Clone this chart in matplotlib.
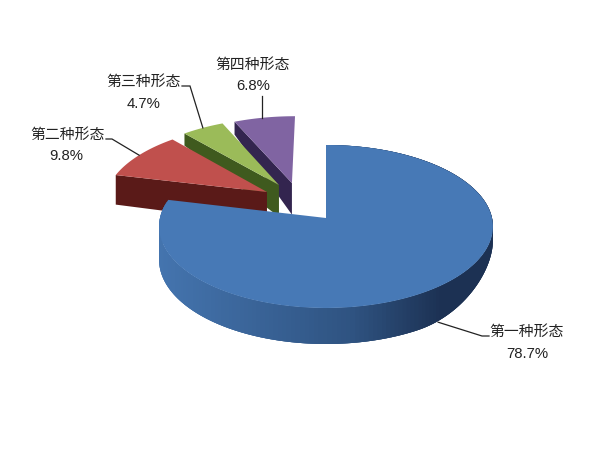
import numpy as np
import matplotlib
matplotlib.use('Agg')
import matplotlib.pyplot as plt

plt.rcParams['font.family'] = ['Liberation Sans', 'Noto Sans CJK SC']

labels = ['第一种形态', '第二种形态', '第三种形态', '第四种形态']
shares = [78.7, 9.8, 4.7, 6.8]

top_colors = ['#4779b6', '#c0504d', '#9bbb59', '#8064a2']
wall_colors = [None, '#5a1a18', '#3f5a1e', '#33254f']
# how far each slice is pulled out of the pie, in pie radii
explode_u = [0.0, -0.368, -0.296, -0.215]
explode_v = [0.0, 0.334, 0.427, 0.4545]

# label centres and leader line ends, in pixels
label_x = [527, 68, 144, 253]
label_y = [332, 135, 82, 65]
elbow = [(482, 336), (112, 139), (190, 86), (262, 96)]
line_end = [(489, 336), (106, 139), (182, 86), (262, 96)]

# perspective of the pie plane
x0, y0 = 326, 218
A, B, k = 166, 80.6, 0.1043


def project(u, v):
    w = 1 + k * v
    return x0 + A * u / w, y0 - B * v / w


def depth(v):
    return np.interp(v, [-1, 0.5, 1.15, 1.4], [36, 31.5, 12, 13])


fig = plt.figure(figsize=(5.99, 4.63), dpi=100)
ax = fig.add_axes([0, 0, 1, 1])
ax.set_xlim(0, 599)
ax.set_ylim(463, 0)
ax.axis('off')

edges = np.cumsum([0] + shares) * 2 * np.pi / 100

# back slices first, the big blue one last
c_left = np.array(matplotlib.colors.to_rgb('#4474ae'))
c_mid = np.array(matplotlib.colors.to_rgb('#2f5381'))
c_right = np.array(matplotlib.colors.to_rgb('#1c3153'))

for i in [3, 2, 1, 0]:
    a0, a1 = edges[i], edges[i + 1]
    th = np.linspace(a0, a1, 200)
    u = np.sin(th) + explode_u[i]
    v = np.cos(th) + explode_v[i]
    x, y = project(u, v)

    if i == 0:
        # outer wall, dark on the right going lighter to the left
        # wall gets thinner towards the right edge of the pie
        d = depth(v) * (1 - 0.6 * np.clip((u - 0.5) / 0.5, 0, 1) ** 2)
        for j in range(len(th) - 4):
            xm = x[j + 1]
            if xm < 350:
                col = c_left + (c_mid - c_left) * (xm - 160) / 190
            else:
                col = c_mid + (c_right - c_mid) * min((xm - 350) / 90, 1)
            # quads overlap so no seams show between them
            xq = x[j:j + 4]
            yq = y[j:j + 4]
            dq = d[j:j + 4]
            ax.fill(np.r_[xq, xq[::-1]], np.r_[yq, (yq + dq)[::-1]],
                    color=np.clip(col, 0, 1), lw=0, zorder=6)
    else:
        # radial wall from the slice apex out to its first corner
        ue = np.array([explode_u[i], np.sin(a0) + explode_u[i]])
        ve = np.array([explode_v[i], np.cos(a0) + explode_v[i]])
        xe, ye = project(ue, ve)
        de = depth(ve)
        ax.fill([xe[0], xe[1], xe[1], xe[0]],
                [ye[0], ye[1], ye[1] + de[1], ye[0] + de[0]],
                color=wall_colors[i], lw=0, zorder=5 - i)

    xa, ya = project(explode_u[i], explode_v[i])
    ax.fill(np.r_[xa, x], np.r_[ya, y], color=top_colors[i], lw=0,
            zorder=12 if i == 0 else 5 - i)

# labels and leader lines
for i in range(4):
    mid = (edges[i] + edges[i + 1]) / 2
    um = np.sin(mid) + explode_u[i]
    vm = np.cos(mid) + explode_v[i]
    xa, ya = project(um, vm)
    if i == 0:
        ya += depth(vm)
    if i == 3:
        xa = elbow[i][0]
    ax.plot([xa, elbow[i][0], line_end[i][0]], [ya, elbow[i][1], line_end[i][1]],
            color='#222222', lw=0.9, zorder=20, solid_joinstyle='miter')
    ax.text(label_x[i], label_y[i], labels[i], fontsize=10.7, color='#222222',
            ha='center', va='center', zorder=21)
    ax.text(label_x[i] - (2 if i == 1 else 0), label_y[i] + 21.5, '%.1f%%' % shares[i],
            fontsize=10.7, color='#222222', ha='center', va='center', zorder=21)

fig.savefig('out.png', dpi=100)
